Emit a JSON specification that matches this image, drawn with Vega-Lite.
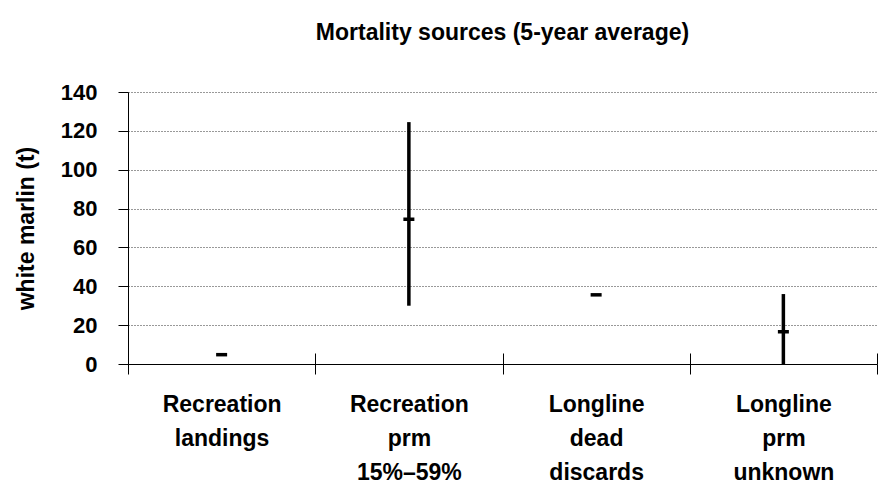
{
  "$schema": "https://vega.github.io/schema/vega-lite/v6.json",
  "width": 749,
  "height": 272,
  "autosize": "none",
  "padding": {"left": 128, "top": 92, "right": 1, "bottom": 119},
  "background": "white",
  "config": {
    "font": "Liberation Sans",
    "view": {"stroke": null},
    "axisY": {"titleFontSize": 23, "titleFontWeight": "bold", "titleColor": "black", "titlePadding": 22, "labelFontSize": 22, "labelFontWeight": "bold", "labelColor": "black", "labelPadding": 21, "tickSize": 10, "tickColor": "black", "tickWidth": 1, "domainColor": "black", "domainWidth": 1, "grid": true, "gridColor": "#333", "gridDash": [1, 2], "gridWidth": 1, "gridOpacity": 1, "labelOverlap": false}
  },
  "title": {"text": "Mortality sources (5-year average)", "fontSize": 23, "fontWeight": "bold", "color": "black", "anchor": "middle", "offset": 36, "font": "Liberation Sans"},
  "data": {"values": [
    {"source": "Recreation landings", "value": 4.8},
    {"source": "Recreation prm 15%–59%", "value": 74.5, "low": 30, "high": 124.5},
    {"source": "Longline dead discards", "value": 35.6},
    {"source": "Longline prm unknown", "value": 16.6, "low": 0, "high": 36}
  ]},
  "layer": [
    {
      "transform": [{"filter": "datum.low != null"}],
      "mark": {"type": "rule", "strokeWidth": 3.5, "color": "black", "opacity": 1},
      "encoding": {
        "x": {"field": "source", "type": "nominal", "sort": ["Recreation landings", "Recreation prm 15%–59%", "Longline dead discards", "Longline prm unknown"], "scale": {"type": "band", "paddingInner": 0, "paddingOuter": 0},
          "axis": {"title": null, "labelAngle": 0, "labelExpr": "datum.value ? split(datum.value, ' ') : ''", "labelFontSize": 23, "labelFontWeight": "bold", "labelColor": "black", "labelLineHeight": 34, "labelPadding": 19, "tickBand": "extent", "tickSize": 10, "tickColor": "black", "tickWidth": 1, "domainColor": "black", "domainWidth": 1, "grid": false}},
        "y": {"field": "low", "type": "quantitative", "title": "white marlin (t)", "scale": {"domain": [0, 140], "nice": false},
          "axis": {"values": [0, 20, 40, 60, 80, 100, 120, 140]}},
        "y2": {"field": "high"}
      }
    },
    {
      "mark": {"type": "tick", "thickness": 3.5, "size": 11, "color": "black", "opacity": 1, "orient": "horizontal"},
      "encoding": {
        "x": {"field": "source", "type": "nominal", "sort": ["Recreation landings", "Recreation prm 15%–59%", "Longline dead discards", "Longline prm unknown"], "scale": {"type": "band", "paddingInner": 0, "paddingOuter": 0}, "axis": null},
        "y": {"field": "value", "type": "quantitative", "title": "white marlin (t)", "axis": {"values": [0, 20, 40, 60, 80, 100, 120, 140]}}
      }
    },
    {
      "mark": {"type": "tick", "opacity": 0},
      "encoding": {
        "x": {"field": "source", "type": "nominal", "sort": ["Recreation landings", "Recreation prm 15%–59%", "Longline dead discards", "Longline prm unknown"], "scale": {"type": "band", "paddingInner": 0, "paddingOuter": 0},
          "axis": {"orient": "bottom", "title": null, "labels": false, "domain": false, "grid": false, "tickBand": "extent", "tickSize": -11, "tickColor": "black", "tickWidth": 1}},
        "y": {"field": "value", "type": "quantitative", "title": "white marlin (t)", "axis": {"values": [0, 20, 40, 60, 80, 100, 120, 140]}}
      }
    }
  ],
  "resolve": {"axis": {"x": "independent"}}
}
